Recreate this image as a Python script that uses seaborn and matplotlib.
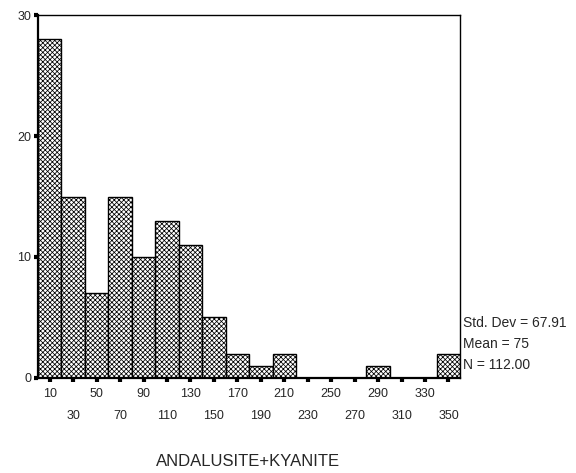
import numpy as np
import matplotlib
matplotlib.use("Agg")
import matplotlib.pyplot as plt
import seaborn as sns

# Bin centres (width 20) and frequency per bin
bin_centers = [10, 30, 50, 70, 90, 110, 130, 150, 170, 190, 210, 230, 250, 270, 290, 310, 330, 350]
counts = [28, 15, 7, 15, 10, 13, 11, 5, 2, 1, 2, 0, 0, 0, 1, 0, 0, 2]
bin_edges = list(range(0, 361, 20))
y_ticks = [0, 10, 20, 30]
stats_lines = ["Std. Dev = 67.91", "Mean = 75", "N = 112.00"]
x_label = "ANDALUSITE+KYANITE"

sns.set_style("white")
plt.rcParams["font.family"] = ["Liberation Sans", "DejaVu Sans"]
plt.rcParams["hatch.linewidth"] = 0.55

fig = plt.figure(figsize=(5.76, 4.73), dpi=100)
ax = fig.add_axes([0.066, 0.201, 0.733, 0.767])

sns.histplot(x=bin_centers, weights=counts, bins=bin_edges, ax=ax,
             stat="count", element="bars", fill=True,
             color="white", edgecolor="black", linewidth=1.0,
             hatch="xxxxxxx", alpha=1.0)

ax.set_xlim(0, 360)
ax.set_ylim(0, 30)

for s in ax.spines.values():
    s.set_visible(True)
    s.set_color("black")
    s.set_linewidth(1.0)
ax.spines["left"].set_linewidth(1.6)
ax.spines["bottom"].set_linewidth(1.6)

ax.set_yticks(y_ticks)
ax.set_yticklabels([str(v) for v in y_ticks], fontsize=9)

# two staggered rows of tick labels
row1 = bin_centers[0::2]
row2 = bin_centers[1::2]
ax.set_xticks(row1)
ax.set_xticklabels([str(v) for v in row1], fontsize=9)
ax.set_xticks(row2, minor=True)
ax.set_xticklabels([str(v) for v in row2], minor=True, fontsize=9)

ax.tick_params(axis="x", which="both", direction="out", length=3, width=3,
               color="black", bottom=True)
ax.tick_params(axis="x", which="major", pad=4)
ax.tick_params(axis="x", which="minor", pad=20)
ax.tick_params(axis="y", direction="out", length=3, width=3, color="black",
               left=True, pad=2)

ax.set_xlabel("")
ax.set_ylabel("")
fig.text(0.431, 0.025, x_label, ha="center", va="center", fontsize=12)

for i, line in enumerate(stats_lines):
    fig.text(0.804, 0.318 - i * 0.0445, line, ha="left", va="center", fontsize=10)

fig.savefig("out.png", dpi=100)
